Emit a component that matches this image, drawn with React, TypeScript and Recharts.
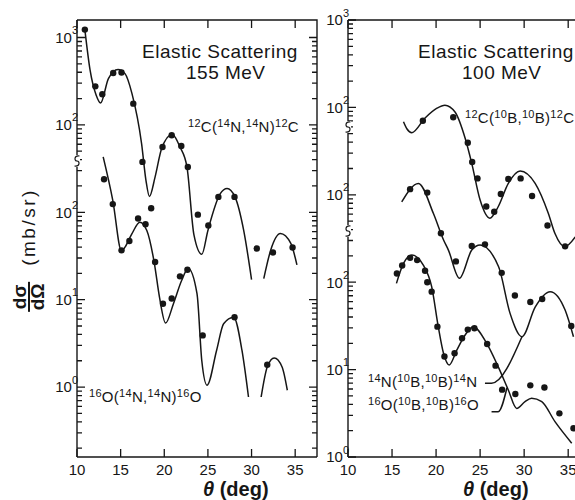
import React from "react";
import { ComposedChart, Line, Scatter, XAxis, YAxis } from "recharts";

const INK = "#161616";
const FONT = "'Liberation Sans', Arial, sans-serif";

// ---- 155 MeV panel (14N projectile) -- values in mb/sr
// 12C is drawn shifted up by x10, same as the original figure
const OFFSET_C12_155 = 10;
const OFFSET_O16_155 = 1;

const c12n14Points: [number, number][] = [
  [10.9, 1230], [12.1, 276], [12.9, 224], [14.15, 393], [15.1, 397], [16.45, 175],
  [17.5, 37.7], [18.5, 11.1], [19.8, 55.8], [20.85, 76], [21.95, 57.4], [22.7, 33],
  [23.85, 9.4], [25.05, 7.05], [26.2, 15], [28.05, 15], [30.6, 3.85], [32.45, 3.46],
  [34.7, 3.95],
];
const c12n14Fit: [number, number][] = [
  [10.9, 1230], [11.5, 422], [12.2, 218], [12.7, 178], [13.6, 339], [14.7, 430],
  [15.5, 386], [16.3, 228], [17.4, 61], [17.9, 23.2], [18.3, 15.2], [18.95, 25.4],
  [19.7, 53.6], [20.9, 77.4], [21.8, 55.8], [22.6, 33], [23.4, 5.5], [24.3, 3.3],
  [25.0, 6.2], [26.4, 16.2], [27.2, 18.7], [28.1, 15], [29.1, 6.2], [30.0, 1.7],
];
const c12n14FitB: [number, number][] = [
  [31.4, 1.74], [32.2, 3.7], [33.3, 5.7], [34.5, 4.4], [35.2, 2.5],
];

const o16n14Points: [number, number][] = [
  [13.1, 239], [14.1, 124], [15.1, 36.7], [16.0, 47], [17.0, 85], [17.85, 73],
  [18.95, 27], [19.85, 9.0], [20.85, 10.3], [21.8, 18.5], [22.65, 22], [24.4, 3.9],
  [28.05, 6.3], [31.8, 1.8],
];
const o16n14Fit: [number, number][] = [
  [13.0, 430], [14.1, 137], [15.1, 36], [15.5, 40], [16.3, 57], [17.2, 77], [18.0, 62],
  [18.85, 26.6], [19.45, 10.7], [20.15, 5.4], [21.05, 9.0], [22.0, 16.7], [22.75, 22.7],
  [23.75, 11.7], [24.3, 2.0], [24.9, 1.05], [26.0, 2.64], [26.8, 5.3], [27.95, 6.3],
  [28.9, 2.64], [29.65, 0.77],
];
const o16n14FitB: [number, number][] = [
  [31.1, 0.77], [31.8, 1.7], [32.6, 2.15], [33.5, 1.7], [34.1, 0.92],
];

// ---- 100 MeV panel (10B projectile)
const OFFSET_C12_100 = 100;
const OFFSET_N14_100 = 10;
const OFFSET_O16_100 = 1;

const c12b10Points: [number, number][] = [
  [18.5, 70.4], [21.95, 77], [23.6, 39.4], [24.1, 23.7], [24.7, 15.4], [25.7, 7.35],
  [26.6, 6.4], [27.35, 10.2], [28.2, 15.2], [29.6, 15.4], [30.9, 9.7], [32.65, 4.45],
  [34.65, 2.57],
];
const c12b10Fit: [number, number][] = [
  [16.3, 68.6], [16.7, 56.6], [17.25, 51.4], [18.75, 75.7], [20.1, 98], [21.0, 106],
  [22.15, 88.5], [23.3, 44.3], [24.05, 22.9], [25.0, 8.7], [26.1, 5.4], [27.05, 7.3],
  [28.2, 13.5], [29.55, 18.7], [31.25, 13.5], [32.75, 6.1], [33.5, 3.6], [34.6, 2.55],
  [35.8, 3.3],
];

const n14b10Points: [number, number][] = [
  [17.05, 116], [19.0, 106], [20.55, 36.3], [22.25, 17.3], [24.05, 26], [25.55, 27.1],
  [27.45, 12.8], [28.95, 7.05], [30.7, 5.93], [32.05, 6.43], [35.35, 3.15],
];
const n14b10Fit: [number, number][] = [
  [16.1, 83], [18.0, 135], [19.7, 61], [20.85, 30.4], [21.4, 23.3], [22.65, 11.1],
  [24.05, 23.3], [25.0, 26.7], [27.1, 15], [28.4, 4.4], [29.75, 2.38], [31.25, 5.2],
  [32.95, 7.8], [34.65, 4.8], [35.6, 2.38],
];

const o16b10Points: [number, number][] = [
  [15.55, 126], [16.15, 155], [17.05, 190], [17.85, 179], [18.75, 135], [19.0, 100],
  [19.5, 78], [20.15, 31], [20.95, 14.1], [22.1, 15.4], [22.95, 22.8], [23.6, 28.7],
  [24.35, 29.7], [25.8, 19.6], [26.75, 11.1], [27.5, 5.9], [29.0, 5.26], [30.7, 6.6],
  [32.3, 6.24], [34.0, 3.16], [35.6, 2.13],
];
const o16b10Fit: [number, number][] = [
  [15.5, 97], [16.3, 164], [17.25, 205], [18.55, 157], [19.5, 89], [20.25, 31],
  [20.85, 15.3], [21.5, 11.3], [22.35, 16.7], [23.3, 24.9], [24.2, 31], [25.75, 20],
  [27.05, 10.8], [28.2, 5.85], [29.15, 3.6], [30.1, 4.3], [30.85, 4.7], [32.0, 4.3],
  [33.5, 2.54], [35.4, 1.44],
];

// label leaders, in plotted (shifted) units
const n14Leader: [number, number][] = [[25.55, 6.97], [26.3, 6.97], [29.75, 23.8]];
const o16Leader: [number, number][] = [[26.3, 3.3], [27.05, 3.3], [28.05, 6.2]];

// axis ticks
const xMajor = [10, 15, 20, 25, 30, 35];
const yMajor155 = [1, 10, 100, 1000, 10000];
const yExp155 = ["0", "1", "2", "2", "3"];
const yMajor100 = [1, 10, 100, 1000, 10000, 100000];
const yExp100 = ["0", "1", "2", "2", "2", "3"];

const DOMAIN_155: [number, number] = [Math.pow(10, -0.8), Math.pow(10, 4.2)];
const DOMAIN_100: [number, number] = [1, 100000];

const TOP = 20;
const BOTTOM = 457;

const rows = (pts: [number, number][], k = 1) => pts.map(([x, v]) => ({ x, y: v * k }));

const minorTicks = (lo: number, hi: number) => {
  const out: number[] = [];
  for (let e = -2; e <= 6; e++) {
    for (let d = 2; d <= 9; d++) {
      const v = d * Math.pow(10, e);
      if (v >= lo && v <= hi) out.push(v);
    }
  }
  return out;
};

const LINE = { stroke: INK, strokeWidth: 1.4 };

function YLabel(props: any) {
  const { x, y, payload, majors, exps } = props;
  const i = majors.findIndex((m: number) => Math.abs(m - payload.value) / m < 1e-6);
  if (i < 0) return <g />;
  return (
    <text x={x + 1} y={y} textAnchor="end" fontSize={15} fill={INK} fontFamily={FONT}>
      <tspan dy="0.36em">10</tspan>
      <tspan dy="-0.8em" fontSize={11}>{exps[i]}</tspan>
    </text>
  );
}

function XLabel(props: any) {
  const { x, y, payload } = props;
  return (
    <text x={x} y={y + 18} textAnchor="middle" fontSize={15} fill={INK} fontFamily={FONT}>
      {payload.value}
    </text>
  );
}

const dot = (p: any) => <circle cx={p.cx} cy={p.cy} r={3.2} fill={INK} />;

function Panel({
  width,
  left,
  xMax,
  yDomain,
  majors,
  exps,
  curves,
  points,
}: {
  width: number;
  left: number;
  xMax: number;
  yDomain: [number, number];
  majors: number[];
  exps: string[];
  curves: { x: number; y: number }[][];
  points: { x: number; y: number }[][];
}) {
  return (
    <ComposedChart width={width} height={500} margin={{ top: TOP, right: 3, bottom: 0, left: 0 }}>
      <XAxis
        dataKey="x"
        type="number"
        domain={[10, xMax]}
        allowDataOverflow
        interval={0}
        ticks={xMajor}
        height={500 - BOTTOM}
        tickSize={0}
        tickMargin={0}
        tickLine={false}
        axisLine={LINE}
        tick={(p: any) => <XLabel {...p} />}
      />
      <YAxis
        scale="log"
        type="number"
        domain={yDomain}
        allowDataOverflow
        interval={0}
        ticks={majors}
        width={left}
        tickSize={0}
        tickMargin={0}
        tickLine={false}
        axisLine={LINE}
        tick={(p: any) => <YLabel {...p} majors={majors} exps={exps} />}
      />
      {curves.map((c, i) => (
        <Line
          key={"c" + i}
          data={c}
          dataKey="y"
          type="monotone"
          stroke={INK}
          strokeWidth={1.5}
          dot={false}
          isAnimationActive={false}
        />
      ))}
      {points.map((p, i) => (
        <Scatter key={"p" + i} data={p} dataKey="y" shape={dot} isAnimationActive={false} />
      ))}
    </ComposedChart>
  );
}

// inward tick marks plus the top and right edges of a panel frame, as one path (page pixels)
function Frame({
  x0,
  x1,
  xMax,
  yDomain,
  majors,
  rightTicks,
}: {
  x0: number;
  x1: number;
  xMax: number;
  yDomain: [number, number];
  majors: number[];
  rightTicks: boolean;
}) {
  const lo = Math.log10(yDomain[0]);
  const hi = Math.log10(yDomain[1]);
  const py = (v: number) => (TOP + ((hi - Math.log10(v)) / (hi - lo)) * (BOTTOM - TOP)).toFixed(2);
  const px = (t: number) => (x0 + ((t - 10) / (xMax - 10)) * (x1 - x0)).toFixed(2);
  const yt: [number, number][] = [
    ...majors.map((v) => [v, 8] as [number, number]),
    ...minorTicks(yDomain[0], yDomain[1]).map((v) => [v, 5] as [number, number]),
  ];
  let ticks = "";
  yt.forEach(([v, len]) => {
    ticks += `M${x0} ${py(v)}h${len}`;
    if (rightTicks) ticks += `M${x1} ${py(v)}h${-len}`;
  });
  xMajor.forEach((t) => {
    ticks += `M${px(t)} ${BOTTOM}v-8M${px(t)} ${TOP}v8`;
  });
  const edge = `M${x0} ${TOP}H${x1}V${BOTTOM}`;
  return (
    <g>
      <path d={ticks} fill="none" stroke={INK} strokeWidth={1.3} />
      <path d={edge} fill="none" stroke={INK} strokeWidth={1.4} />
    </g>
  );
}

const abs = (left: number, top: number, extra: React.CSSProperties = {}): React.CSSProperties => ({
  position: "absolute",
  left,
  top,
  fontFamily: FONT,
  color: INK,
  whiteSpace: "nowrap",
  lineHeight: "20px",
  ...extra,
});

const Sup = ({ children }: { children: React.ReactNode }) => (
  <sup style={{ fontSize: 11, lineHeight: 0, verticalAlign: "0.45em" }}>{children}</sup>
);

const Reaction = ({ t, p, left, top }: { t: [string, string]; p: [string, string]; left: number; top: number }) => (
  <div style={abs(left, top - 10, { fontSize: 15, letterSpacing: 0.3 })}>
    <Sup>{t[0]}</Sup>
    {t[1]}(<Sup>{p[0]}</Sup>
    {p[1]},<Sup>{p[0]}</Sup>
    {p[1]})<Sup>{t[0]}</Sup>
    {t[1]}
  </div>
);

function BreakMark({ x, y }: { x: number; y: number }) {
  return (
    <g>
      <rect x={x - 3} y={y - 6} width={6} height={12} fill="#fff" />
      <path
        d={`M ${x + 2.5} ${y - 5} C ${x - 3} ${y - 6}, ${x - 3} ${y}, ${x} ${y} C ${x + 3} ${y}, ${x + 3} ${y + 6}, ${x - 2.5} ${y + 5}`}
        fill="none"
        stroke={INK}
        strokeWidth={1.2}
      />
    </g>
  );
}

export default function App() {
  return (
    <div
      style={{
        position: "absolute",
        left: 0,
        top: 0,
        width: 575,
        height: 500,
        overflow: "hidden",
        background: "#fff",
      }}
    >
      <div style={{ position: "absolute", left: 0, top: 0 }}>
        <Panel
          width={320}
          left={77}
          xMax={37.5}
          yDomain={DOMAIN_155}
          majors={yMajor155}
          exps={yExp155}
          curves={[
            rows(c12n14Fit, OFFSET_C12_155),
            rows(c12n14FitB, OFFSET_C12_155),
            rows(o16n14Fit, OFFSET_O16_155),
            rows(o16n14FitB, OFFSET_O16_155),
          ]}
          points={[rows(c12n14Points, OFFSET_C12_155), rows(o16n14Points, OFFSET_O16_155)]}
        />
      </div>
      <div style={{ position: "absolute", left: 320, top: 0 }}>
        <Panel
          width={260}
          left={28}
          xMax={36}
          yDomain={DOMAIN_100}
          majors={yMajor100}
          exps={yExp100}
          curves={[
            rows(c12b10Fit, OFFSET_C12_100),
            rows(n14b10Fit, OFFSET_N14_100),
            rows(o16b10Fit, OFFSET_O16_100),
            rows(n14Leader),
            rows(o16Leader),
          ]}
          points={[
            rows(c12b10Points, OFFSET_C12_100),
            rows(n14b10Points, OFFSET_N14_100),
            rows(o16b10Points, OFFSET_O16_100),
          ]}
        />
      </div>

      <svg width={575} height={500} style={{ position: "absolute", left: 0, top: 0, pointerEvents: "none" }}>
        <Frame x0={77} x1={317} xMax={37.5} yDomain={DOMAIN_155} majors={yMajor155} rightTicks />
        <Frame x0={348} x1={577} xMax={36} yDomain={DOMAIN_100} majors={yMajor100} rightTicks={false} />
        <BreakMark x={77} y={161} />
        <BreakMark x={348} y={127} />
        <BreakMark x={348} y={231} />
      </svg>

      <div style={abs(142, 42, { fontSize: 19, letterSpacing: 0.5 })}>Elastic Scattering</div>
      <div style={abs(186, 63, { fontSize: 19, letterSpacing: 0.5 })}>155 MeV</div>
      <Reaction t={["12", "C"]} p={["14", "N"]} left={188} top={127} />
      <Reaction t={["16", "O"]} p={["14", "N"]} left={89} top={397} />

      <div style={abs(418, 42, { fontSize: 19, letterSpacing: 0.5 })}>Elastic Scattering</div>
      <div style={abs(462, 63, { fontSize: 19, letterSpacing: 0.5 })}>100 MeV</div>
      <Reaction t={["12", "C"]} p={["10", "B"]} left={465} top={118} />
      <Reaction t={["14", "N"]} p={["10", "B"]} left={368} top={382} />
      <Reaction t={["16", "O"]} p={["10", "B"]} left={368} top={405} />

      <div style={abs(203, 479, { fontSize: 20, fontWeight: 700 })}>
        <i>θ</i> (deg)
      </div>
      <div style={abs(463, 479, { fontSize: 20, fontWeight: 700 })}>
        <i>θ</i> (deg)
      </div>

      <div
        style={{
          position: "absolute",
          left: 29,
          top: 250,
          transform: "translate(-50%, -50%) rotate(-90deg)",
          fontFamily: FONT,
          color: INK,
          whiteSpace: "nowrap",
          display: "flex",
          alignItems: "center",
          gap: 16,
        }}
      >
        <span
          style={{
            display: "inline-flex",
            flexDirection: "column",
            alignItems: "center",
            lineHeight: "16px",
            fontWeight: 700,
            fontSize: 19,
          }}
        >
          <span>dσ</span>
          <span style={{ borderTop: `2px solid ${INK}`, width: 30 }} />
          <span>dΩ</span>
        </span>
        <span style={{ fontSize: 19, letterSpacing: 2.5 }}>(mb/sr)</span>
      </div>
    </div>
  );
}
